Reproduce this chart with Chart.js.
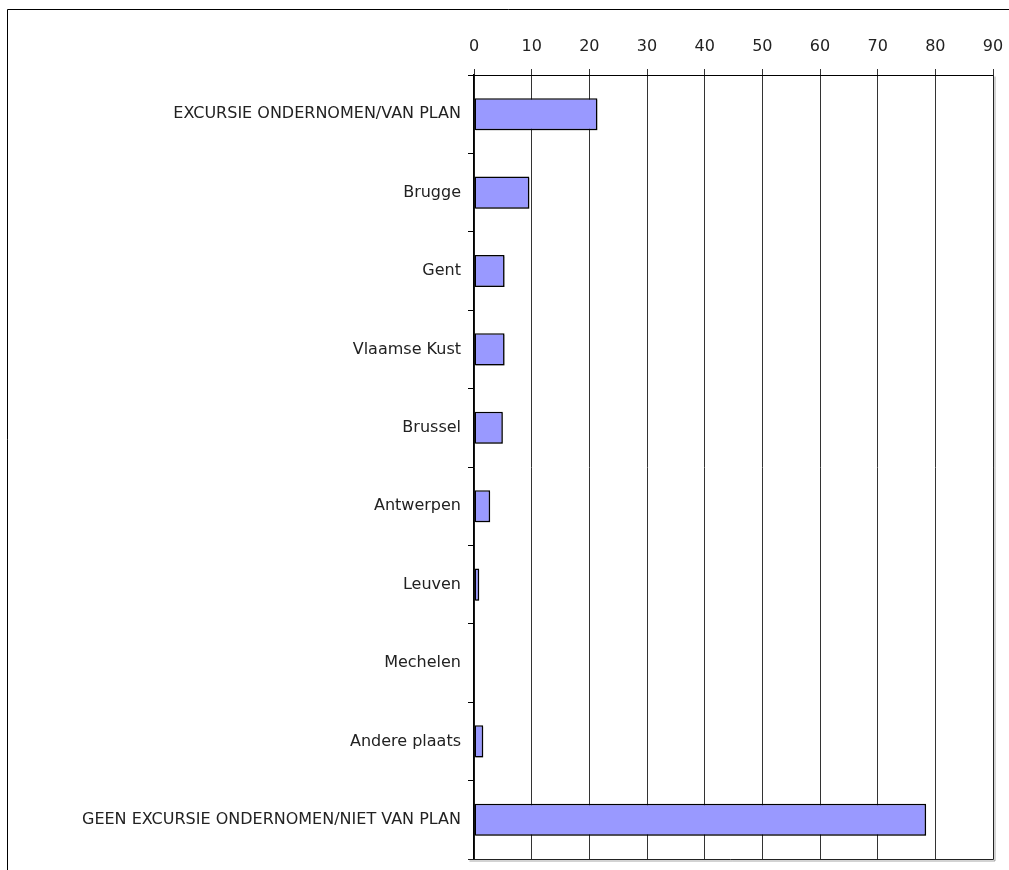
<!DOCTYPE html>
<html>
<head>
<meta charset="utf-8">
<script src="https://cdn.jsdelivr.net/npm/chart.js@4"></script>
<style>
  html, body { margin: 0; padding: 0; background: #fff; }
  canvas { display: block; }
</style>
</head>
<body>
<canvas id="chart" width="1009" height="870"></canvas>
<script>
// categories and percentages
const categories = [
  "EXCURSIE ONDERNOMEN/VAN PLAN",
  "Brugge",
  "Gent",
  "Vlaamse Kust",
  "Brussel",
  "Antwerpen",
  "Leuven",
  "Mechelen",
  "Andere plaats",
  "GEEN EXCURSIE ONDERNOMEN/NIET VAN PLAN"
];
const values = [21.4, 9.6, 5.3, 5.3, 5.0, 2.8, 0.9, 0, 1.6, 78.4];
const xMin = 0;
const xMax = 90;
const xStep = 10;

const FONT = "'DejaVu Sans', sans-serif";

// outer frame (top + left) like the original export
const framePlugin = {
  id: "frame",
  beforeDraw(chart) {
    const ctx = chart.ctx;
    ctx.save();
    ctx.strokeStyle = "#000";
    ctx.lineWidth = 1;
    ctx.beginPath();
    ctx.moveTo(7.5, chart.height);
    ctx.lineTo(7.5, 9.5);
    ctx.lineTo(chart.width, 9.5);
    ctx.stroke();
    ctx.restore();
  },
  afterDatasetsDraw(chart) {
    // box around plot area (bottom + right edges)
    const a = chart.chartArea;
    const ctx = chart.ctx;
    ctx.save();
    ctx.strokeStyle = "#222";
    ctx.lineWidth = 1;
    ctx.beginPath();
    ctx.moveTo(Math.round(a.left) - 6, Math.round(a.bottom) + 0.5);
    ctx.lineTo(Math.round(a.right) + 0.5, Math.round(a.bottom) + 0.5);
    ctx.lineTo(Math.round(a.right) + 0.5, Math.round(a.top));
    ctx.stroke();
    ctx.restore();
  }
};

// small drop shadow under the bars
const shadowPlugin = {
  id: "barShadow",
  beforeDatasetsDraw(chart) {
    const ctx = chart.ctx;
    ctx.save();
    ctx.shadowColor = "rgba(0,0,0,0.35)";
    ctx.shadowOffsetX = 1.5;
    ctx.shadowOffsetY = 1.5;
    ctx.shadowBlur = 0;
  },
  afterDatasetsDraw(chart) {
    chart.ctx.restore();
  }
};

new Chart(document.getElementById("chart"), {
  type: "bar",
  data: {
    labels: categories,
    datasets: [{
      data: values,
      backgroundColor: "#9999FF",
      borderColor: "#000",
      borderWidth: 1.5,
      borderSkipped: false,
      categoryPercentage: 1,
      barPercentage: 0.41
    }]
  },
  options: {
    indexAxis: "y",
    responsive: false,
    devicePixelRatio: 1,
    animation: false,
    layout: { padding: { top: 0, left: 0, right: 16, bottom: 11 } },
    plugins: {
      legend: { display: false },
      tooltip: { enabled: false }
    },
    scales: {
      x: {
        position: "top",
        min: xMin,
        max: xMax,
        afterFit(scale) {
          scale.height = 75;
          scale.paddingLeft = 0;
          scale.paddingRight = 0;
        },
        ticks: {
          stepSize: xStep,
          color: "#222",
          padding: 13,
          font: { family: FONT, size: 16 }
        },
        grid: {
          color: "#333",
          lineWidth: 1,
          tickLength: 6,
          drawTicks: true
        },
        border: { display: true, color: "#000", width: 1 }
      },
      y: {
        afterFit(scale) {
          scale.width = 474;
          scale.paddingTop = 0;
          scale.paddingBottom = 0;
        },
        ticks: {
          color: "#222",
          padding: 7,
          font: { family: FONT, size: 16 }
        },
        grid: {
          offset: true,
          drawOnChartArea: false,
          drawTicks: true,
          tickLength: 6,
          color: "#000"
        },
        border: { display: true, color: "#000", width: 1.5 }
      }
    }
  },
  plugins: [framePlugin, shadowPlugin]
});
</script>
</body>
</html>
